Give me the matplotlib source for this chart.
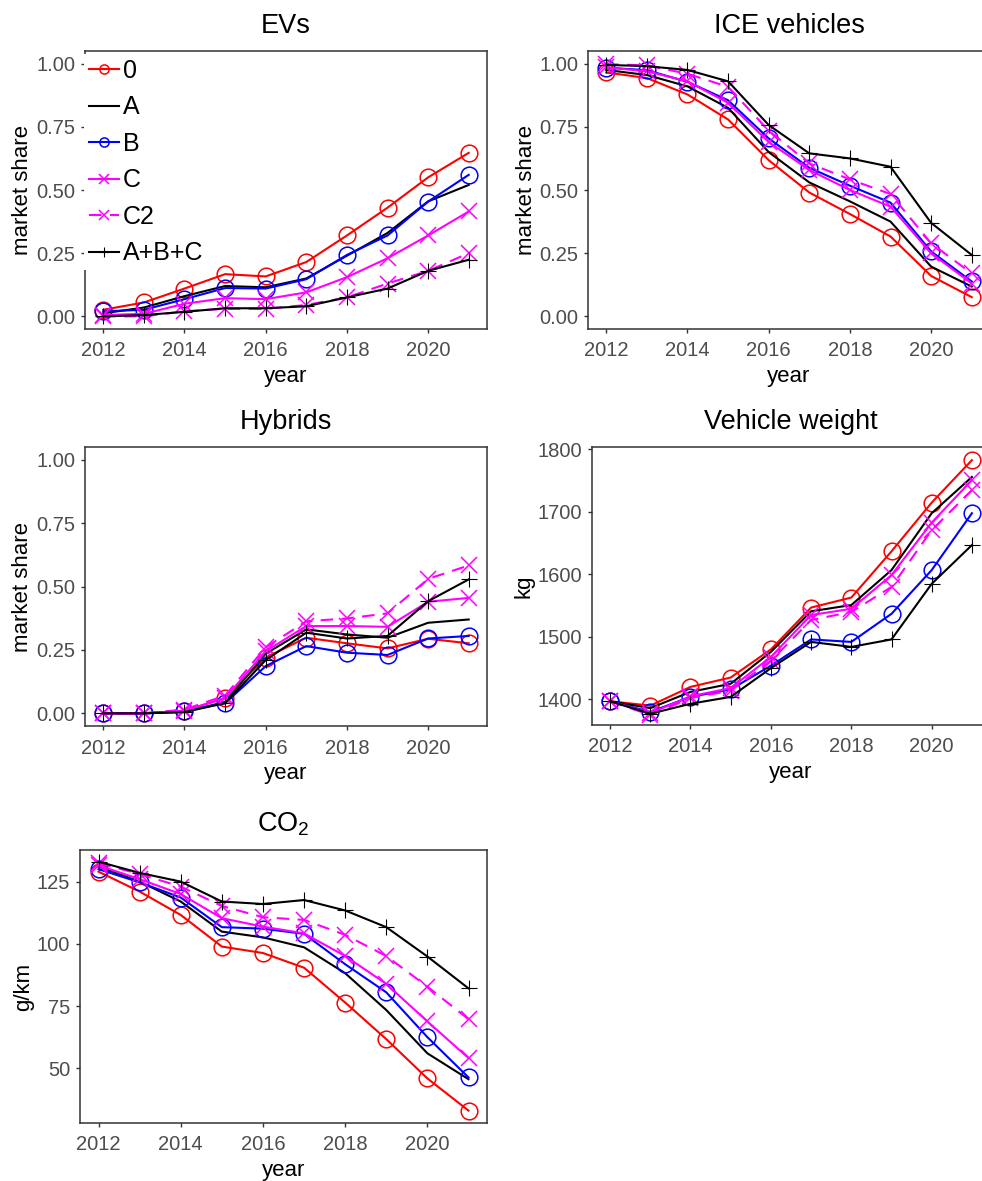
"""
Scenario comparison: market shares, vehicle weight and CO2, 2012-2021
"""
import matplotlib.pyplot as plt
from matplotlib.ticker import FormatStrFormatter

plt.rcParams['font.family'] = ['Liberation Sans', 'DejaVu Sans']
plt.rcParams['mathtext.default'] = 'regular'

years = list(range(2012, 2022))
scenarios = ['0', 'A', 'B', 'C', 'C2', 'A+B+C']

ev_share = {
    '0':     [0.026, 0.055, 0.110, 0.167, 0.158, 0.215, 0.320, 0.430, 0.550, 0.647],
    'A':     [0.012, 0.035, 0.080, 0.120, 0.115, 0.150, 0.240, 0.330, 0.455, 0.520],
    'B':     [0.020, 0.026, 0.068, 0.112, 0.110, 0.147, 0.243, 0.320, 0.454, 0.560],
    'C':     [0.005, 0.010, 0.050, 0.072, 0.068, 0.095, 0.155, 0.230, 0.320, 0.415],
    'C2':    [0.000, 0.000, 0.020, 0.030, 0.030, 0.045, 0.075, 0.130, 0.180, 0.250],
    'A+B+C': [0.000, 0.005, 0.018, 0.032, 0.032, 0.040, 0.075, 0.110, 0.180, 0.224],
}
ice_share = {
    '0':     [0.965, 0.943, 0.878, 0.779, 0.618, 0.490, 0.405, 0.316, 0.160, 0.076],
    'A':     [0.975, 0.955, 0.910, 0.825, 0.650, 0.530, 0.455, 0.375, 0.197, 0.118],
    'B':     [0.984, 0.974, 0.928, 0.855, 0.704, 0.588, 0.517, 0.450, 0.257, 0.138],
    'C':     [0.985, 0.970, 0.930, 0.845, 0.690, 0.579, 0.500, 0.434, 0.250, 0.130],
    'C2':    [0.998, 0.993, 0.960, 0.908, 0.735, 0.605, 0.542, 0.484, 0.289, 0.170],
    'A+B+C': [0.995, 0.990, 0.975, 0.930, 0.757, 0.645, 0.625, 0.592, 0.370, 0.243],
}
hybrid_share = {
    '0':     [0.0, 0.0, 0.010, 0.060, 0.220, 0.298, 0.276, 0.256, 0.294, 0.276],
    'A':     [0.0, 0.0, 0.005, 0.045, 0.235, 0.331, 0.311, 0.298, 0.357, 0.370],
    'B':     [0.0, 0.0, 0.010, 0.040, 0.186, 0.265, 0.239, 0.230, 0.295, 0.305],
    'C':     [0.0, 0.0, 0.010, 0.060, 0.245, 0.344, 0.344, 0.341, 0.440, 0.455],
    'C2':    [0.0, 0.0, 0.015, 0.070, 0.260, 0.363, 0.374, 0.394, 0.530, 0.583],
    'A+B+C': [0.0, 0.0, 0.005, 0.040, 0.210, 0.318, 0.295, 0.305, 0.442, 0.528],
}
weight_kg = {
    '0':     [1397, 1390, 1420, 1435, 1480, 1547, 1563, 1637, 1715, 1783],
    'A':     [1397, 1386, 1412, 1425, 1476, 1541, 1551, 1607, 1698, 1756],
    'B':     [1397, 1380, 1404, 1416, 1454, 1496, 1492, 1537, 1607, 1698],
    'C':     [1397, 1378, 1405, 1418, 1468, 1535, 1545, 1599, 1683, 1751],
    'C2':    [1397, 1375, 1402, 1414, 1462, 1527, 1540, 1580, 1671, 1735],
    'A+B+C': [1397, 1377, 1393, 1404, 1450, 1492, 1484, 1496, 1585, 1647],
}
co2_gkm = {
    '0':     [129.0, 121.0, 111.6, 98.9, 96.3, 90.4, 76.4, 61.7, 45.9, 33.0],
    'A':     [131.0, 125.0, 117.0, 104.9, 102.6, 98.6, 88.2, 73.4, 56.0, 45.6],
    'B':     [130.0, 124.7, 118.6, 106.7, 106.1, 104.0, 91.8, 80.5, 62.5, 46.3],
    'C':     [131.5, 126.0, 120.0, 110.3, 106.9, 104.2, 95.1, 83.9, 68.8, 54.1],
    'C2':    [132.5, 128.0, 123.0, 115.2, 110.7, 109.6, 103.6, 95.1, 82.8, 69.7],
    'A+B+C': [133.0, 128.5, 125.0, 117.0, 116.0, 117.6, 113.4, 106.7, 94.9, 82.1],
}

styles = {
    '0':     dict(color='#FF0000', marker='o', ls='-'),
    'A':     dict(color='black', marker='None', ls='-'),
    'B':     dict(color='#0000FF', marker='o', ls='-'),
    'C':     dict(color='#FF00FF', marker='x', ls='-'),
    'C2':    dict(color='#FF00FF', marker='x', ls=(0, (6, 4))),
    'A+B+C': dict(color='black', marker='+', ls='-'),
}
marker_size = {'o': 12, 'x': 12, '+': 12, 'None': 0}
marker_width = {'o': 1.1, 'x': 1.1, '+': 0.8, 'None': 1}

W, H = 982, 1181
fig = plt.figure(figsize=(W / 100, H / 100), dpi=100)


def make_axes(x0, x1, y0, y1):
    # pixel box (from top-left) -> figure fraction
    return fig.add_axes([x0 / W, 1 - y1 / H, (x1 - x0) / W, (y1 - y0) / H])


def draw_panel(ax, data, title, ylabel, ylim, yticks, fmt=None):
    for s in scenarios:
        st = styles[s]
        m = st['marker']
        ax.plot(years, data[s], color=st['color'], ls=st['ls'], marker=m,
                markersize=marker_size[m], mfc='none', mew=marker_width[m],
                lw=1.5, label=s)
    ax.set_xlim(2011.55, 2021.45)
    ax.set_ylim(*ylim)
    ax.set_xticks(range(2012, 2022, 2))
    ax.set_yticks(yticks)
    if fmt:
        ax.yaxis.set_major_formatter(FormatStrFormatter(fmt))
    ax.tick_params(direction='out', length=3, width=1, color='#333333',
                   labelcolor='#4D4D4D', labelsize=14.5)
    ax.tick_params(axis='x', pad=6)
    ax.tick_params(axis='y', pad=4)
    for sp in ax.spines.values():
        sp.set_color('#333333')
        sp.set_linewidth(1.1)
    ax.set_title(title, fontsize=19.5, pad=13)
    ax.set_xlabel('year', fontsize=16, labelpad=4)
    ax.set_ylabel(ylabel, fontsize=16, labelpad=2)


share_ticks = [0, 0.25, 0.5, 0.75, 1.0]

ax1 = make_axes(85, 487, 51, 329)
draw_panel(ax1, ev_share, 'EVs', 'market share', (-0.05, 1.05), share_ticks, '%.2f')
leg = ax1.legend(loc='upper left', bbox_to_anchor=(-0.002, 0.99), fontsize=18,
                 frameon=True, fancybox=False, framealpha=1, edgecolor='none',
                 facecolor='white', markerscale=0.55, handlelength=1.2,
                 handletextpad=0.15, labelspacing=0.5, borderpad=0.2,
                 borderaxespad=0)

ax2 = make_axes(588, 990, 51, 329)
draw_panel(ax2, ice_share, 'ICE vehicles', 'market share', (-0.05, 1.05), share_ticks, '%.2f')

ax3 = make_axes(85, 487, 447, 726)
draw_panel(ax3, hybrid_share, 'Hybrids', 'market share', (-0.05, 1.05), share_ticks, '%.2f')

ax4 = make_axes(592, 990, 447, 725)
draw_panel(ax4, weight_kg, 'Vehicle weight', 'kg', (1359, 1804), [1400, 1500, 1600, 1700, 1800])

ax5 = make_axes(80, 487, 850, 1123)
draw_panel(ax5, co2_gkm, 'CO$_2$', 'g/km', (28, 137.7), [50, 75, 100, 125])

fig.savefig('out.png', dpi=100)
